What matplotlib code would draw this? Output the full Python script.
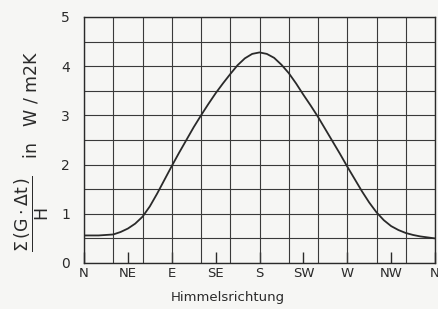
import numpy as np
import matplotlib
matplotlib.use('Agg')
import matplotlib.pyplot as plt

azimuth = [0, 15, 22.5, 30, 37.5, 45, 52.5, 60, 67.5, 75, 82.5, 90, 97.5, 105, 112.5,
           120, 127.5, 135, 142.5, 150, 157.5, 165, 172.5, 180, 187.5, 195, 202.5,
           210, 217.5, 225, 232.5, 240, 247.5, 255, 262.5, 270, 277.5, 285, 292.5,
           300, 307.5, 315, 322.5, 330, 337.5, 345, 352.5, 360]
value = [0.56, 0.56, 0.57, 0.58, 0.63, 0.70, 0.80, 0.94, 1.15, 1.41, 1.69, 1.97, 2.24,
         2.50, 2.76, 3.00, 3.23, 3.45, 3.65, 3.84, 4.02, 4.16, 4.25, 4.28, 4.25, 4.17,
         4.03, 3.86, 3.65, 3.42, 3.20, 2.97, 2.72, 2.47, 2.22, 1.96, 1.71, 1.46, 1.23,
         1.03, 0.87, 0.75, 0.67, 0.61, 0.57, 0.54, 0.52, 0.50]

dir_pos = [0, 45, 90, 135, 180, 225, 270, 315, 360]
dir_labels = ['N', 'NE', 'E', 'SE', 'S', 'SW', 'W', 'NW', 'N']
y_ticks = [0, 1, 2, 3, 4, 5]

ink = '#2a2a2a'
bg = '#f6f6f4'

plt.rcParams['font.family'] = ['DejaVu Sans']
plt.rcParams['mathtext.fontset'] = 'dejavusans'
fig = plt.figure(figsize=(4.38, 3.09), dpi=100, facecolor=bg)
ax = fig.add_axes([84 / 438, 46 / 309, 351 / 438, 246 / 309])
ax.set_facecolor(bg)

ax.plot(azimuth, value, color=ink, lw=1.3, solid_capstyle='round')

ax.set_xlim(0, 360)
ax.set_ylim(0, 5)

ax.set_xticks(dir_pos)
ax.set_xticklabels(dir_labels)
ax.set_xticks(np.arange(0, 361, 30), minor=True)
ax.set_yticks(y_ticks)
ax.set_yticks(np.arange(0, 5.01, 0.5), minor=True)
ax.xaxis.remove_overlapping_locs = False
ax.yaxis.remove_overlapping_locs = False

ax.grid(which='minor', color='#3a3a3a', lw=0.8)
ax.grid(which='major', visible=False)
ax.tick_params(axis='x', which='major', direction='in', length=8, width=1.0,
               color=ink, labelcolor=ink, labelsize=9.5, pad=3)
ax.tick_params(axis='y', which='major', length=0, labelcolor=ink, labelsize=10, pad=10)
ax.tick_params(which='minor', length=0)
for s in ax.spines.values():
    s.set_color(ink)
    s.set_linewidth(1.0)

ax.set_xlabel('Himmelsrichtung', color=ink, fontsize=9.5, labelpad=0)
ax.xaxis.set_label_coords(0.41, -0.115)
ax.set_ylabel(r'$\dfrac{\Sigma\,(\mathrm{G}\cdot\Delta\mathrm{t}\,)}{\mathrm{H}}$'
              '   in   W / m2K', color=ink, fontsize=12.5)
ax.yaxis.set_label_coords(-0.095, 0.455)

fig.savefig('out.png', dpi=100, facecolor=bg)
